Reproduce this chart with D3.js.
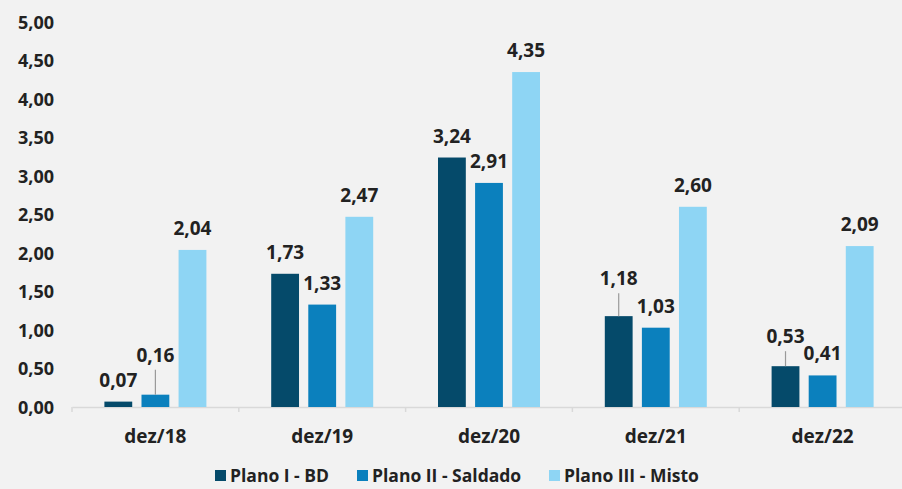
<!DOCTYPE html>
<html>
<head>
<meta charset="utf-8">
<script src="https://cdn.jsdelivr.net/npm/d3@7"></script>
<style>
  body { margin: 0; background: #f2f2f2; }
  svg { display: block; }
</style>
</head>
<body>
<div id="chart"></div>
<script>
// data
var categories = ["dez/18", "dez/19", "dez/20", "dez/21", "dez/22"];
var seriesNames = ["Plano I - BD", "Plano II - Saldado", "Plano III - Misto"];
var planoI = [0.07, 1.73, 3.24, 1.18, 0.53];
var planoII = [0.16, 1.33, 2.91, 1.03, 0.41];
var planoIII = [2.04, 2.47, 4.35, 2.60, 2.09];
var yTicks = [0, 0.5, 1, 1.5, 2, 2.5, 3, 3.5, 4, 4.5, 5];
var colors = ["#054a6a", "#0b80bd", "#8ed5f4"];
// labels lifted off their bar with a leader line (series index, category index, extra lift)
var liftedLabels = [[1, 0, 18], [0, 3, 16], [0, 4, 8]];

var width = 902, height = 489;
var allSeries = [planoI, planoII, planoIII];

var svg = d3.select("#chart").append("svg")
    .attr("width", width)
    .attr("height", height)
    .style("background", "#f2f2f2");

var x0 = d3.scaleBand().domain(categories).range([72, 906]).padding(0);
var x1 = d3.scaleBand().domain(d3.range(3)).range([0, 102]).paddingInner(0.25).paddingOuter(0);
var y = d3.scaleLinear().domain([0, 5]).range([407, 22]);

var fmt = function (v) { return d3.format(".2f")(v).replace(".", ","); };

// y axis labels only
svg.append("g")
    .selectAll("text")
    .data(yTicks)
    .join("text")
    .attr("x", 54)
    .attr("y", function (d) { return y(d) + 6.5; })
    .attr("text-anchor", "end")
    .attr("font-family", "Open Sans")
    .attr("font-weight", "bold")
    .attr("font-size", 18)
    .attr("fill", "#222")
    .text(fmt);

// baseline + category ticks
var xAxis = svg.append("g").attr("transform", "translate(0," + y(0) + ")")
    .call(d3.axisBottom(x0).tickSize(0).tickFormat(""));
xAxis.select(".domain").attr("stroke", "#d9d9d9").attr("stroke-width", 1.5);
xAxis.selectAll(".sep")
    .data(categories.concat(["end"]))
    .join("line")
    .attr("class", "sep")
    .attr("x1", function (d, i) { return 72 + i * x0.step(); })
    .attr("x2", function (d, i) { return 72 + i * x0.step(); })
    .attr("y1", 0).attr("y2", 5)
    .attr("stroke", "#d9d9d9").attr("stroke-width", 1.5);

svg.append("g").selectAll("text")
    .data(categories)
    .join("text")
    .attr("x", function (d) { return x0(d) + x0.bandwidth() / 2; })
    .attr("y", 443)
    .attr("text-anchor", "middle")
    .attr("font-family", "Open Sans")
    .attr("font-weight", "bold")
    .attr("font-size", 19)
    .attr("fill", "#222")
    .text(function (d) { return d; });

// bars
var groupOffset = (x0.bandwidth() - 102) / 2;
var points = [];
allSeries.forEach(function (vals, s) {
  vals.forEach(function (v, c) { points.push({ s: s, c: c, v: v }); });
});

var barX = function (d) { return x0(categories[d.c]) + groupOffset + x1(d.s); };

svg.append("g").selectAll("rect")
    .data(points)
    .join("rect")
    .attr("x", barX)
    .attr("y", function (d) { return y(d.v); })
    .attr("width", x1.bandwidth())
    .attr("height", function (d) { return y(0) - y(d.v); })
    .attr("fill", function (d) { return colors[d.s]; });

var liftOf = function (d) {
  var m = liftedLabels.find(function (l) { return l[0] === d.s && l[1] === d.c; });
  return m ? m[2] : 0;
};

// leader lines
svg.append("g").selectAll("line")
    .data(points.filter(function (d) { return liftOf(d) > 0; }))
    .join("line")
    .attr("x1", function (d) { return barX(d) + x1.bandwidth() / 2; })
    .attr("x2", function (d) { return barX(d) + x1.bandwidth() / 2; })
    .attr("y1", function (d) { return y(d.v) - 15 - liftOf(d) + 8; })
    .attr("y2", function (d) { return y(d.v); })
    .attr("stroke", "#9a9a9a")
    .attr("stroke-width", 1.2);

svg.append("g").selectAll("text")
    .data(points)
    .join("text")
    .attr("x", function (d) { return barX(d) + x1.bandwidth() / 2; })
    .attr("y", function (d) { return y(d.v) - 15 - liftOf(d); })
    .attr("text-anchor", "middle")
    .attr("font-family", "Open Sans")
    .attr("font-weight", "bold")
    .attr("font-size", 19)
    .attr("fill", "#222")
    .text(function (d) { return fmt(d.v); });

// legend
var legendX = [215, 357, 549];
var legend = svg.append("g").selectAll("g")
    .data(seriesNames)
    .join("g")
    .attr("transform", function (d, i) { return "translate(" + legendX[i] + ",470)"; });
legend.append("rect")
    .attr("width", 11).attr("height", 11)
    .attr("fill", function (d, i) { return colors[i]; });
legend.append("text")
    .attr("x", 15)
    .attr("y", 12)
    .attr("font-family", "Open Sans")
    .attr("font-weight", "bold")
    .attr("font-size", 17.5)
    .attr("fill", "#222")
    .text(function (d) { return d; });
</script>
</body>
</html>
